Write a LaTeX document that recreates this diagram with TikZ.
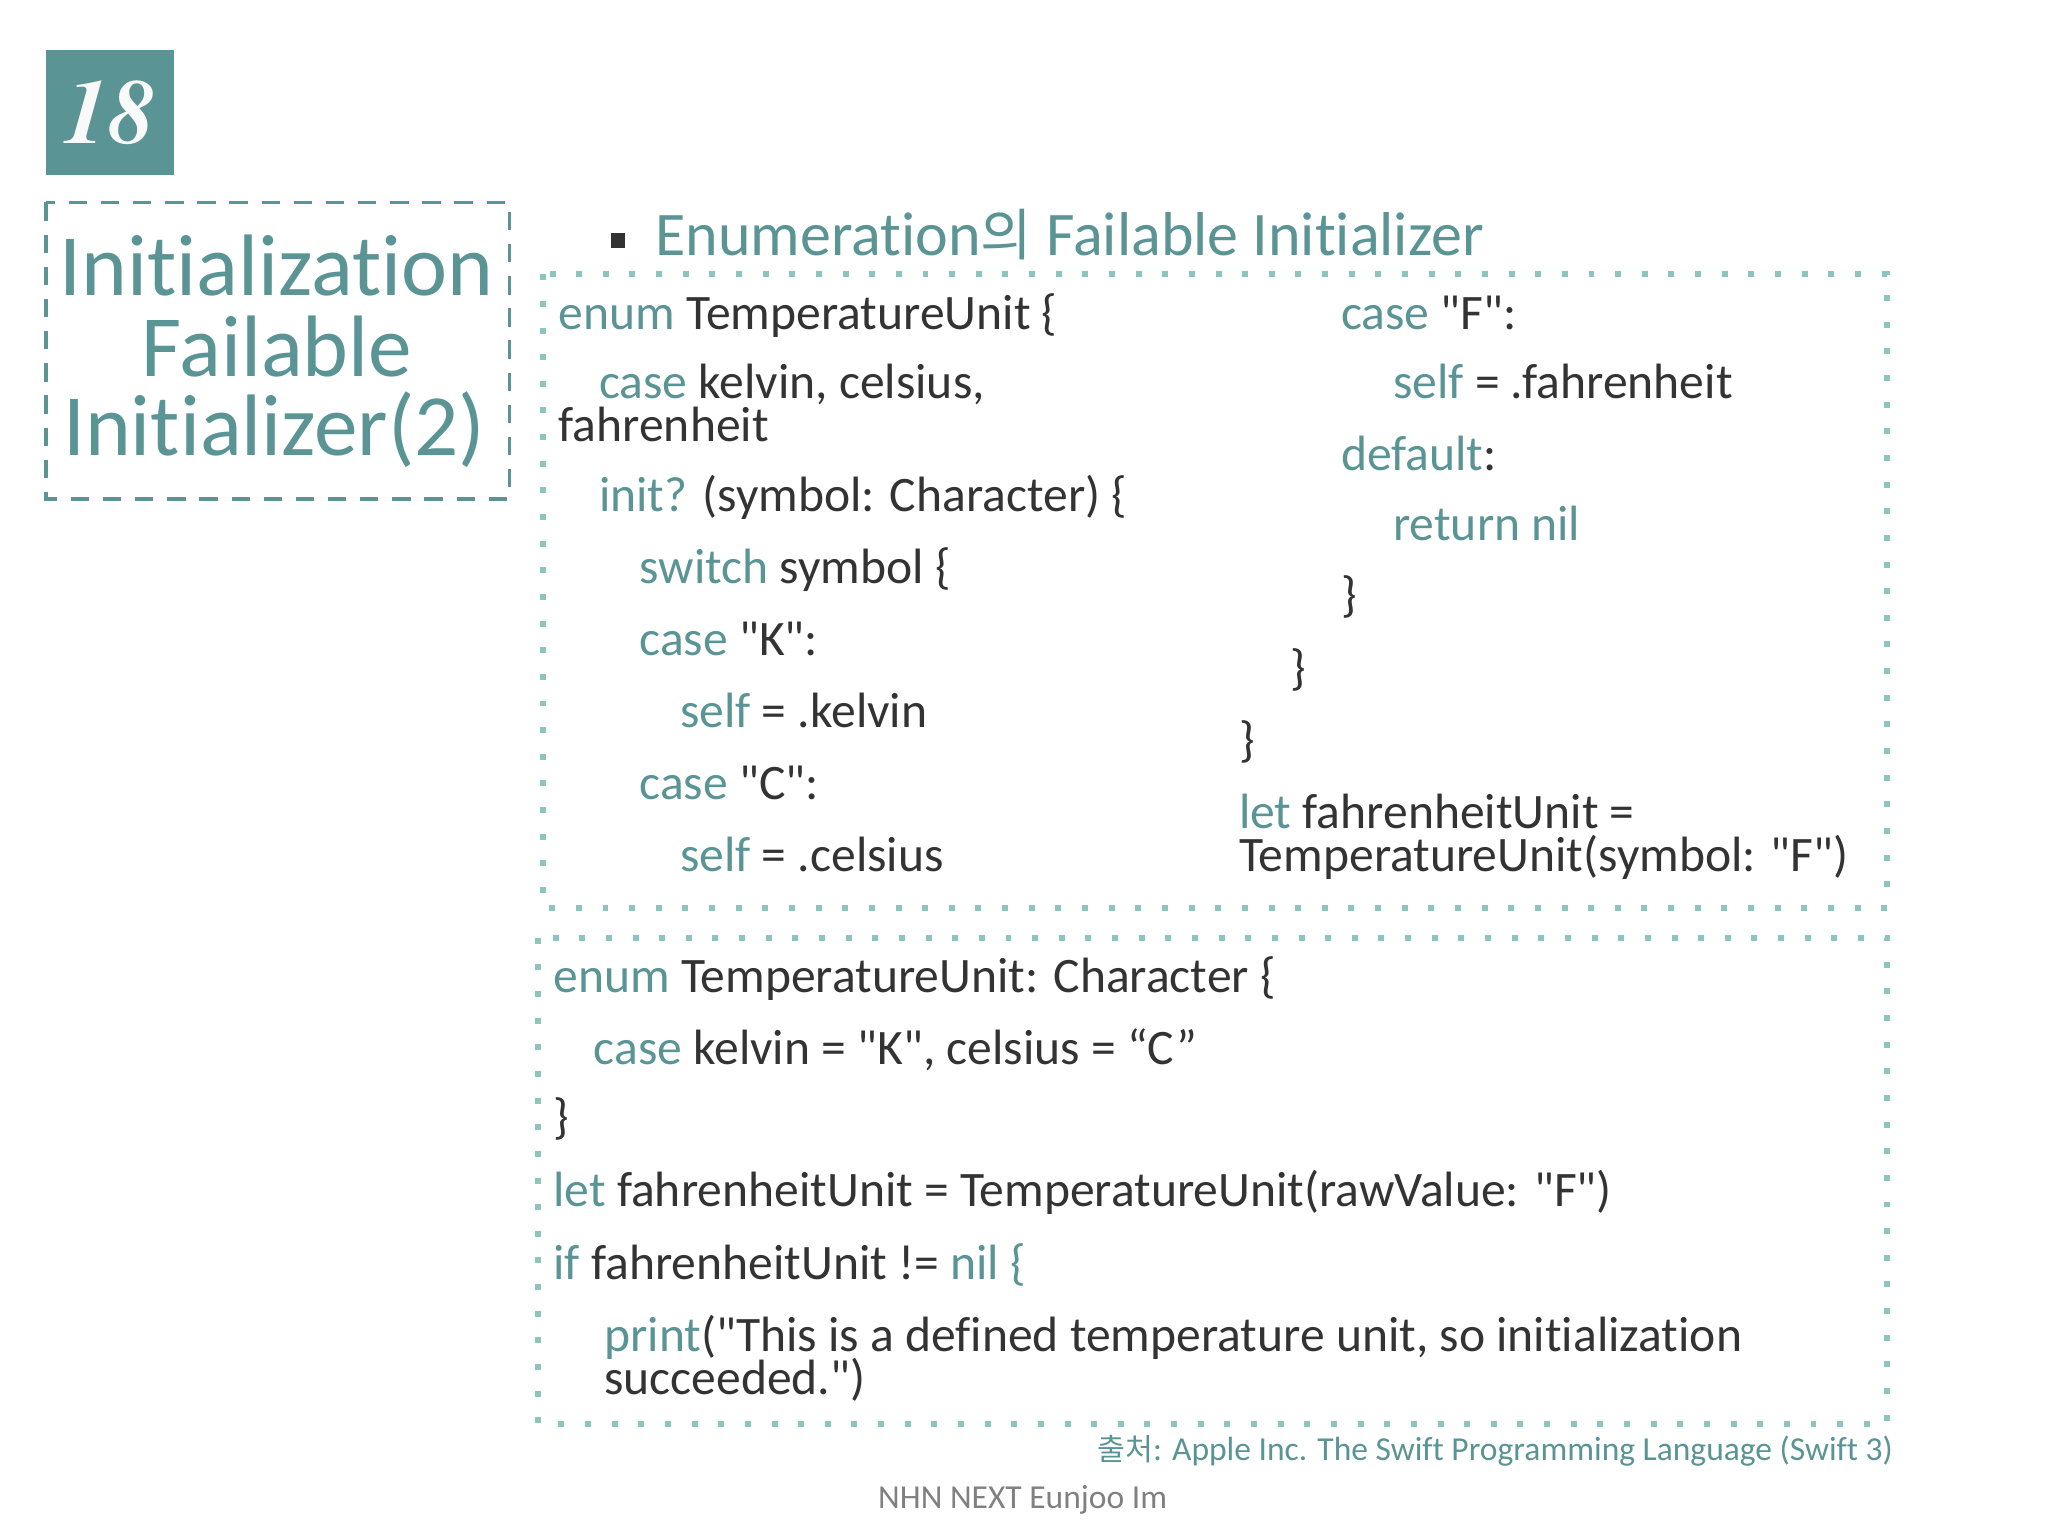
\documentclass[tikz,border=0pt]{standalone}
\usepackage{fontspec}
\setmainfont{Carlito}[Ligatures={TeXOff,NoCommon}]
\newfontfamily\cjk{Noto Sans CJK KR}
\usetikzlibrary{positioning}
\definecolor{teal1}{HTML}{5A9494}
\definecolor{teal2}{HTML}{8CC4C0}
\definecolor{ink}{HTML}{333333}
\newcommand{\kw}[1]{\textcolor{teal1}{#1}}
\begin{document}
\begin{tikzpicture}[x=0.01cm, y=-0.01cm,
                      codeline/.style={anchor=base west, inner sep=0pt, text=ink, font=\fontsize{10.8}{10.8}\selectfont},
                      titleline/.style={anchor=base, inner sep=0pt, text=teal1, font=\fontsize{19}{19}\selectfont},
                      codebox/.style={draw=teal2, line width=1.3pt, dash pattern=on 1.3pt off 4.5pt},
                  ]
  \useasboundingbox (0,0) rectangle (1568,1176);
  %Title
  \node[fill=teal1, minimum width=0.98cm, minimum height=0.96cm, inner sep=0pt] (num) at (84,86)
    {\textcolor{white!95!gray}{\fontspec{TeX Gyre Termes}\bfseries\itshape\fontsize{20}{20}\selectfont 18}};
  \draw[teal1, line width=0.8pt, dash pattern=on 4pt off 3pt] (35,155) rectangle (390,382);
  \node[titleline] (t1) at (212,226) {Initialization};
  \node[titleline] (t2) at (212,288) {Failable};
  \node[titleline] (t3) at (210,349) {Initializer(2)};
  %Heading
  \node[fill=ink, minimum size=0.11cm, inner sep=0pt] (bul) at (473,184) {};
  \node[anchor=base west, inner sep=0pt, text=teal1, font=\fontsize{13.5}{13.5}\selectfont] (head) at (501,196)
    {Enumeration{\cjk\fontsize{12.2}{12.2}\selectfont 의} Failable Initializer};
  %Boxes
  \draw[codebox] (416,210) rectangle (1445,695);
  \draw[codebox] (412,718) rectangle (1445,1090);
  %Upper left column
  \node[codeline] (u1) at (427,252) {\kw{enum} TemperatureUnit \{};
  \node[codeline] (u2) at (458,305) {\kw{case} kelvin, celsius,};
  \node[codeline] (u3) at (427,338) {fahrenheit};
  \node[codeline] (u4) at (458,392) {\kw{init?} (symbol: Character) \{};
  \node[codeline] (u5) at (489,447) {\kw{switch} symbol \{};
  \node[codeline] (u6) at (489,502) {\kw{case} "K":};
  \node[codeline] (u7) at (520,557) {\kw{self} = .kelvin};
  \node[codeline] (u8) at (489,612) {\kw{case} "C":};
  \node[codeline] (u9) at (520,667) {\kw{self} = .celsius};
  %Upper right column
  \node[codeline] (r1) at (1026,252) {\kw{case} "F":};
  \node[codeline] (r2) at (1066,305) {\kw{self} = .fahrenheit};
  \node[codeline] (r3) at (1026,360) {\kw{default}:};
  \node[codeline] (r4) at (1066,414) {\kw{return nil}};
  \node[codeline] (r5) at (1026,468) {\}};
  \node[codeline] (r6) at (987,524) {\}};
  \node[codeline] (r7) at (948,579) {\}};
  \node[codeline] (r8) at (948,634) {\kw{let} fahrenheitUnit =};
  \node[codeline] (r9) at (948,667) {TemperatureUnit(symbol: "F")};
  %Lower box
  \node[codeline] (l1) at (423,760) {\kw{enum} TemperatureUnit: Character \{};
  \node[codeline] (l2) at (454,815) {\kw{case} kelvin = "K", celsius = “C”};
  \node[codeline] (l3) at (423,868) {\}};
  \node[codeline] (l4) at (423,924) {\kw{let} fahrenheitUnit = TemperatureUnit(rawValue: "F")};
  \node[codeline] (l5) at (423,980) {\kw{if} fahrenheitUnit != \kw{nil \{}};
  \node[codeline] (l6) at (462,1035) {\kw{print}("This is a defined temperature unit, so initialization};
  \node[codeline] (l7) at (462,1068) {succeeded.")};
  %Footer
  \node[anchor=base east, inner sep=0pt, text=teal1, font=\fontsize{7.3}{7.3}\selectfont] (src) at (1450,1118)
    {{\cjk\fontsize{6.6}{6.6}\selectfont 출처}: Apple Inc. The Swift Programming Language (Swift 3)};
  \node[anchor=base, inner sep=0pt, text=gray, font=\fontsize{7.3}{7.3}\selectfont] (foot) at (783,1155) {NHN NEXT Eunjoo Im};
\end{tikzpicture}
\end{document}
